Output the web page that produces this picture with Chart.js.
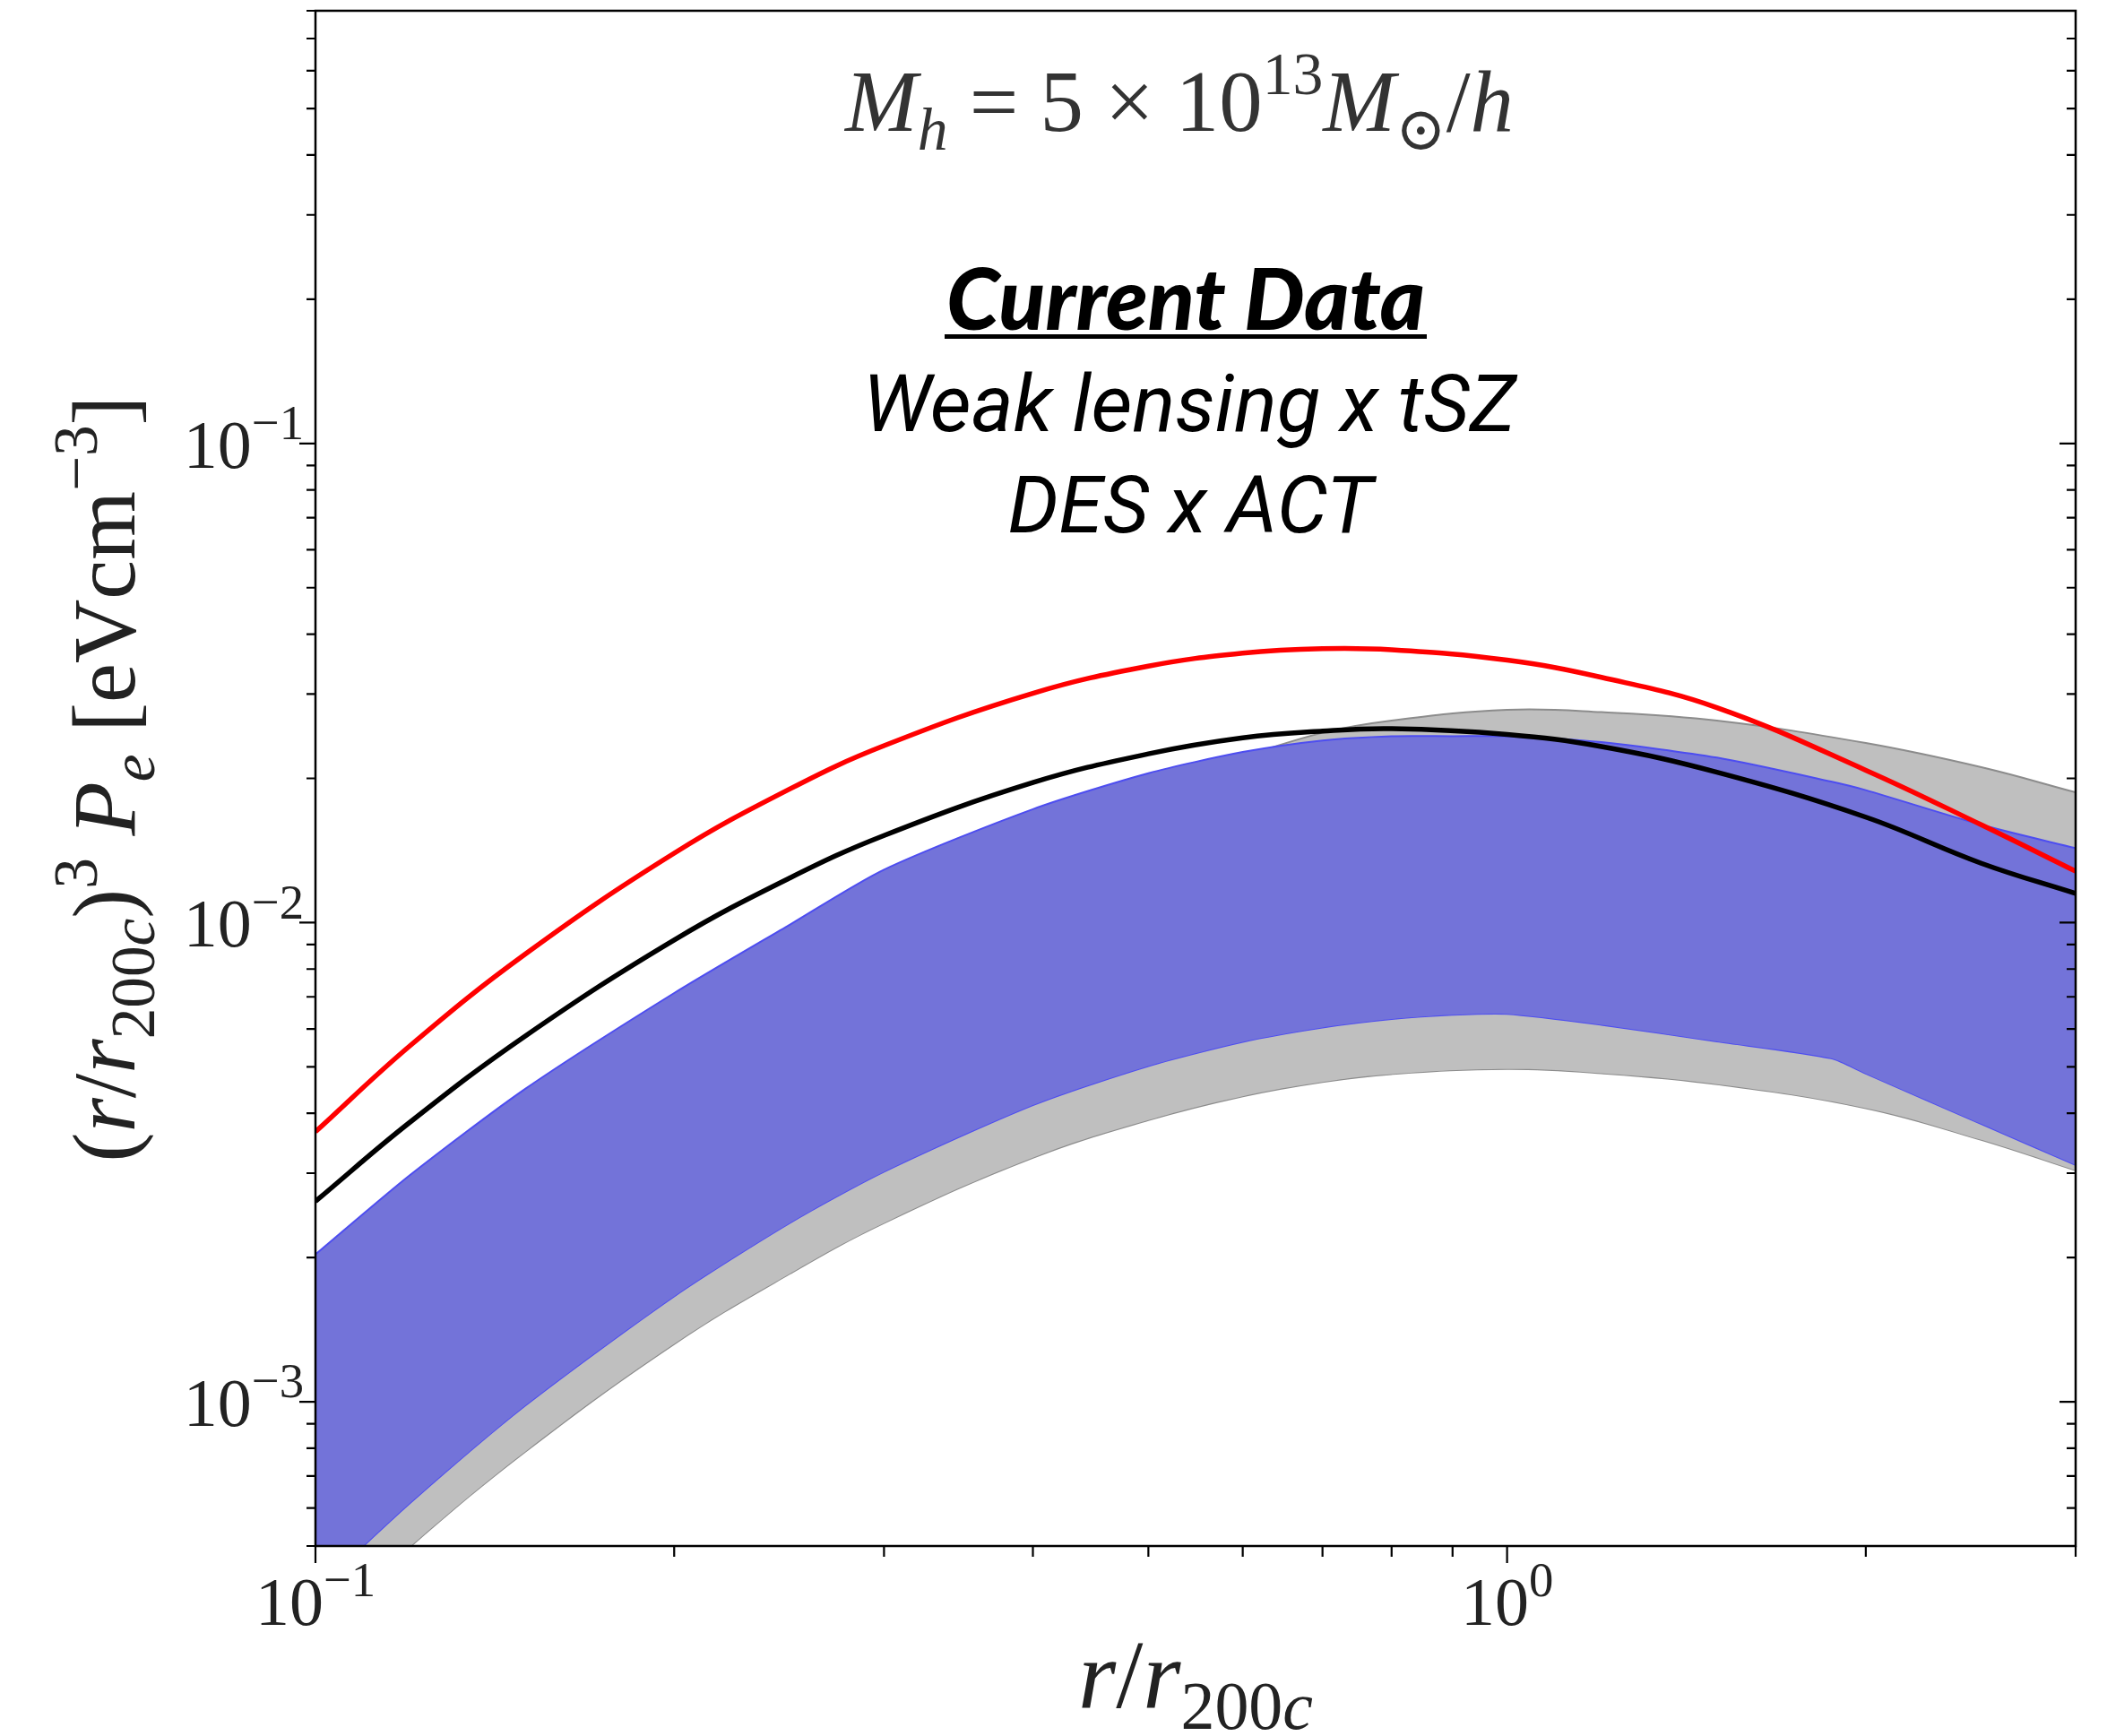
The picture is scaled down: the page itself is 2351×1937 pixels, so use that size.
<!DOCTYPE html>
<html>
<head>
<meta charset="utf-8">
<script src="https://cdn.jsdelivr.net/npm/chart.js@4.4.1/dist/chart.umd.min.js"></script>
<style>
  html, body { margin: 0; padding: 0; background: #fff; }
  #wrap { width: 2351px; height: 1937px; position: relative; }
</style>
</head>
<body>
<div id="wrap"><canvas id="profile"></canvas></div>
<script>
// r / r200c grid for the model curves and the gray band
var rGrid = [0.1, 0.12, 0.15, 0.2, 0.25, 0.3, 0.4, 0.5, 0.6, 0.7, 0.8, 1.0, 1.2, 1.5, 2.0, 2.5, 3.0];
var redModel = [3.66e-3, 5.53e-3, 8.6e-3, 0.01396, 0.0190, 0.0234, 0.0301, 0.0343, 0.0365, 0.0373, 0.0371, 0.0353, 0.0325, 0.0281, 0.0208, 0.0160, 0.0128];
var blackModel = [2.62e-3, 3.83e-3, 5.8e-3, 9.2e-3, 0.01239, 0.0152, 0.0196, 0.0225, 0.0243, 0.0251, 0.0254, 0.0247, 0.0233, 0.0206, 0.0166, 0.0133, 0.0115];
var grayUpper = [1.8e-3, 2.6e-3, 3.9e-3, 6.2e-3, 8.8e-3, 0.0115, 0.0158, 0.0195, 0.0222, 0.0249, 0.0264, 0.0278, 0.0275, 0.0264, 0.0237, 0.0211, 0.0187];
var grayLower = [3.3e-4, 4.98e-4, 7.87e-4, 1.32e-3, 1.85e-3, 2.36e-3, 3.23e-3, 3.87e-3, 4.34e-3, 4.65e-3, 4.83e-3, 4.95e-3, 4.85e-3, 4.60e-3, 4.10e-3, 3.52e-3, 3.04e-3];

// DES x ACT band
var rDes = [0.1, 0.12, 0.15, 0.2, 0.25, 0.3, 0.4, 0.5, 0.6, 0.7, 0.8, 0.9, 1.0, 1.2, 1.5, 1.87, 2.0, 2.5, 3.0];
var desUpper = [2.03e-3, 2.97e-3, 4.5e-3, 7.13e-3, 9.9e-3, 0.0129, 0.01725, 0.0205, 0.0227, 0.0240, 0.0245, 0.0245, 0.0245, 0.0238, 0.0221, 0.0197, 0.0189, 0.0160, 0.0143];
var desLower = [4.03e-4, 6.14e-4, 9.82e-4, 1.66e-3, 2.36e-3, 3.02e-3, 4.16e-3, 5.02e-3, 5.64e-3, 6.04e-3, 6.29e-3, 6.42e-3, 6.45e-3, 6.12e-3, 5.65e-3, 5.21e-3, 4.84e-3, 3.80e-3, 3.12e-3];

var yMajor = [1e-3, 1e-2, 1e-1];
var yExp = ['\u22123', '\u22122', '\u22121'];
var xMajor = [0.1, 1];
var xExp = ['\u22121', '0'];

var serif = '"Liberation Serif", "DejaVu Serif", serif';

var pts = function (xs, ys) {
    return xs.map(function (r, i) { return { x: r, y: ys[i] }; });
};

var minorTicks = function (lo, hi) {
    var out = [];
    for (var d = 1e-4; d < 10; d *= 10) {
        for (var k = 2; k <= 9; k++) {
            var v = k * d;
            if (v >= lo * 0.999 && v <= hi * 1.001) out.push(v);
        }
    }
    return out;
};

// runs: [text, italic?, scale, shift(em, + is down)]
var mathWidth = function (ctx, runs, base) {
    var w = 0;
    runs.forEach(function (r) {
        ctx.font = (r[1] ? 'italic ' : '') + (base * (r[2] || 1)).toFixed(1) + 'px ' + serif;
        w += ctx.measureText(r[0]).width;
    });
    return w;
};
var drawMath = function (ctx, runs, x, y, base, align) {
    var w = mathWidth(ctx, runs, base);
    var x0 = align === 'center' ? x - w / 2 : (align === 'right' ? x - w : x);
    ctx.textAlign = 'left';
    ctx.textBaseline = 'alphabetic';
    runs.forEach(function (r) {
        ctx.font = (r[1] ? 'italic ' : '') + (base * (r[2] || 1)).toFixed(1) + 'px ' + serif;
        ctx.fillText(r[0], x0, y + (r[3] || 0) * base);
        x0 += ctx.measureText(r[0]).width;
    });
};
var fitMath = function (ctx, runs, targetW) {
    return 100 * targetW / mathWidth(ctx, runs, 100);
};
var fitText = function (ctx, text, style, family, targetW) {
    ctx.font = style + ' 100px ' + family;
    return 100 * targetW / ctx.measureText(text).width;
};

var titleRuns = [['M', 1], ['h', 1, 0.7, 0.22], [' = 5 \u00d7 10', 0], ['13', 0, 0.7, -0.42], ['M', 1], ['\u2299', 0, 0.7, 0.22], ['/', 0], ['h', 1]];
var xLabelRuns = [['r', 1], ['/', 0], ['r', 1], ['200', 0, 0.7, 0.22], ['c', 1, 0.7, 0.22]];
var yLabelRuns = [['(', 0], ['r', 1], ['/', 0], ['r', 1], ['200', 0, 0.7, 0.22], ['c', 1, 0.7, 0.22], [')', 0], ['3', 0, 0.7, -0.42], [' ', 0], ['P', 1], ['e', 1, 0.7, 0.22], [' [eVcm', 0], ['\u22123', 0, 0.7, -0.42], [']', 0]];

var axesPlugin = {
    id: 'axesPlugin',
    afterDraw: function (chart) {
        var ctx = chart.ctx, a = chart.chartArea;
        var xs = chart.scales.x, ys = chart.scales.y;
        ctx.save();
        ctx.strokeStyle = '#000';
        ctx.lineWidth = 2.5;
        ctx.strokeRect(a.left, a.top, a.right - a.left, a.bottom - a.top);

        ctx.lineWidth = 2.2;
        ctx.beginPath();
        minorTicks(ys.min, ys.max).forEach(function (v) {
            var y = ys.getPixelForValue(v);
            ctx.moveTo(a.left, y); ctx.lineTo(a.left - 10, y);
            ctx.moveTo(a.right, y); ctx.lineTo(a.right - 10, y);
        });
        yMajor.forEach(function (v) {
            var y = ys.getPixelForValue(v);
            ctx.moveTo(a.left, y); ctx.lineTo(a.left - 18, y);
            ctx.moveTo(a.right, y); ctx.lineTo(a.right - 18, y);
        });
        minorTicks(xs.min, xs.max).forEach(function (v) {
            var x = xs.getPixelForValue(v);
            ctx.moveTo(x, a.bottom); ctx.lineTo(x, a.bottom + 12);
        });
        xMajor.forEach(function (v) {
            var x = xs.getPixelForValue(v);
            ctx.moveTo(x, a.bottom); ctx.lineTo(x, a.bottom + 19);
        });
        ctx.stroke();

        // tick labels
        ctx.fillStyle = '#222';
        yMajor.forEach(function (v, i) {
            drawMath(ctx, [['10', 0], [yExp[i], 0, 0.72, -0.42]], 339, ys.getPixelForValue(v) + 27, 76, 'right');
        });
        xMajor.forEach(function (v, i) {
            drawMath(ctx, [['10', 0], [xExp[i], 0, 0.72, -0.42]], xs.getPixelForValue(v), 1813, 76, 'center');
        });

        // axis titles
        drawMath(ctx, xLabelRuns, 1334, 1905, fitMath(ctx, xLabelRuns, 262), 'center');
        ctx.save();
        ctx.translate(150, 869);
        ctx.rotate(-Math.PI / 2);
        drawMath(ctx, yLabelRuns, 0, 0, fitMath(ctx, yLabelRuns, 855), 'center');
        ctx.restore();

        // annotations
        ctx.fillStyle = '#333';
        drawMath(ctx, titleRuns, 1316, 146, fitMath(ctx, titleRuns, 746), 'center');

        ctx.fillStyle = '#000';
        ctx.textAlign = 'center';
        var sans = 'Lato, Roboto, "Open Sans", sans-serif';
        var fs = fitText(ctx, 'Current Data', 'italic 900', sans, 534);
        ctx.font = 'italic 900 ' + fs.toFixed(1) + 'px ' + sans;
        ctx.fillText('Current Data', 1323, 368);
        ctx.fillRect(1054, 373, 538, 5);

        var isans = 'Roboto, "Liberation Sans", sans-serif';
        fs = fitText(ctx, 'Weak lensing x tSZ', 'italic 400', isans, 729);
        ctx.font = 'italic 400 ' + fs.toFixed(1) + 'px ' + isans;
        ctx.fillText('Weak lensing x tSZ', 1327, 481);
        fs = fitText(ctx, 'DES x ACT', 'italic 400', isans, 407);
        ctx.font = 'italic 400 ' + fs.toFixed(1) + 'px ' + isans;
        ctx.fillText('DES x ACT', 1328, 594);
        ctx.restore();
    }
};

new Chart(document.getElementById('profile'), {
    type: 'line',
    data: {
        datasets: [{
            label: 'gray lower',
            data: pts(rGrid, grayLower),
            borderColor: '#8c8c8c',
            borderWidth: 2,
            backgroundColor: '#bfbfbf',
            fill: false,
            tension: 0.4,
            clip: 0,
            order: 5
        }, {
            label: 'gray upper',
            data: pts(rGrid, grayUpper),
            borderColor: '#8c8c8c',
            borderWidth: 2,
            backgroundColor: '#bfbfbf',
            fill: '-1',
            tension: 0.4,
            clip: 0,
            order: 4
        }, {
            label: 'DES x ACT lower',
            data: pts(rDes, desLower),
            borderColor: '#4d4df0',
            borderWidth: 2,
            backgroundColor: '#7373d9',
            fill: false,
            tension: 0.25,
            clip: 0,
            order: 3
        }, {
            label: 'DES x ACT upper',
            data: pts(rDes, desUpper),
            borderColor: '#4d4df0',
            borderWidth: 2,
            backgroundColor: '#7373d9',
            fill: '-1',
            tension: 0.25,
            clip: 0,
            order: 2
        }, {
            label: 'black',
            data: pts(rGrid, blackModel),
            borderColor: '#000000',
            borderWidth: 5.5,
            fill: false,
            tension: 0.4,
            clip: 0,
            order: 1
        }, {
            label: 'red',
            data: pts(rGrid, redModel),
            borderColor: '#ff0000',
            borderWidth: 5.5,
            fill: false,
            tension: 0.4,
            clip: 0,
            order: 0
        }]
    },
    options: {
        responsive: true,
        maintainAspectRatio: false,
        devicePixelRatio: 1,
        animation: false,
        layout: { padding: { left: 352, right: 35, top: 12, bottom: 212 } },
        elements: { point: { radius: 0, hoverRadius: 0 } },
        plugins: { legend: { display: false }, tooltip: { enabled: false } },
        scales: {
            x: { type: 'logarithmic', min: 0.1, max: 3, display: false },
            y: { type: 'logarithmic', min: 5e-4, max: 0.8, display: false }
        }
    },
    plugins: [axesPlugin]
});
</script>
</body>
</html>
